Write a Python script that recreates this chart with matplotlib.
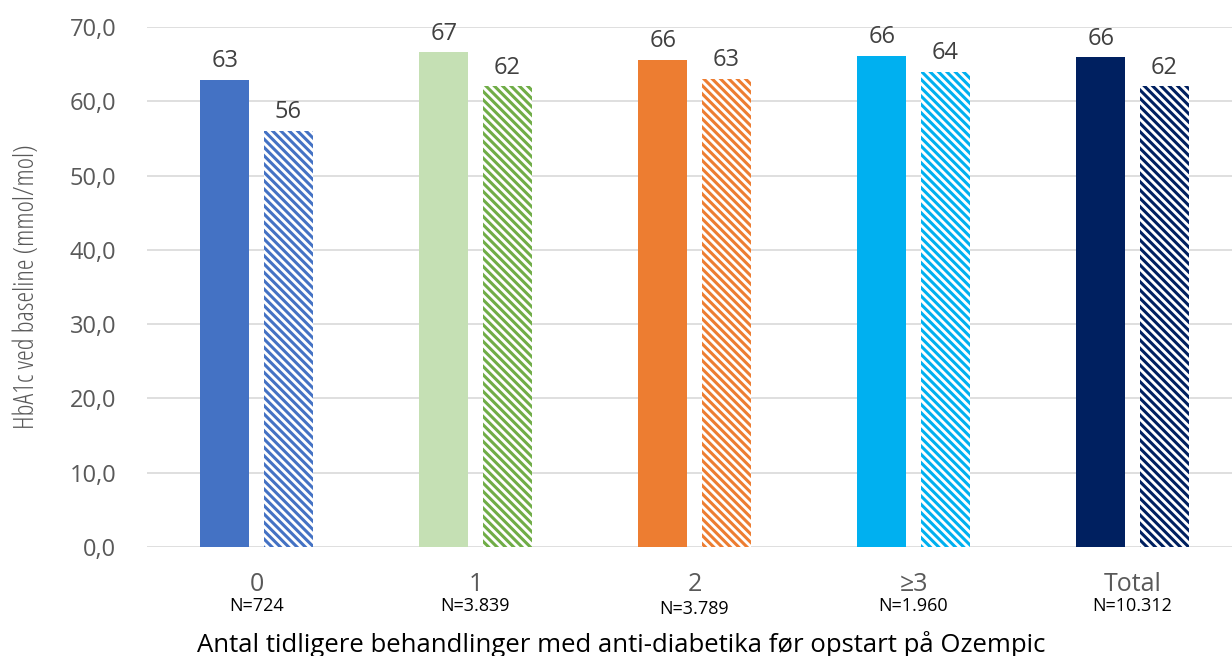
import matplotlib
matplotlib.use("Agg")
import matplotlib.pyplot as plt
import numpy as np

# --- data ---
groups = ["0", "1", "2", "≥3", "Total"]
n_labels = ["N=724", "N=3.839", "N=3.789", "N=1.960", "N=10.312"]
baseline = [62.9, 66.6, 65.6, 66.1, 65.9]
hatched_vals = [56.0, 62.0, 63.0, 64.0, 62.0]
solid_colors = ["#4472C4", "#C5E0B4", "#ED7D31", "#00B0F0", "#002060"]
hatch_colors = ["#4472C4", "#70AD47", "#ED7D31", "#00B0F0", "#002060"]

plt.rcParams["font.family"] = ["Open Sans", "DejaVu Sans"]
plt.rcParams["hatch.linewidth"] = 2.2

fig = plt.figure(figsize=(12.32, 6.56), dpi=100)
ax = fig.add_axes([147 / 1232, 109 / 656, 1 - 147 / 1232, (547 - 27) / 656])

x = np.arange(len(groups))
w = 0.224
off = 0.144

for i in range(len(groups)):
    ax.bar(x[i] - off, baseline[i], w, color=solid_colors[i], zorder=3)
    ax.bar(x[i] + off, hatched_vals[i], w, facecolor="white",
           edgecolor=hatch_colors[i], hatch="\\\\\\\\", linewidth=0, zorder=3)
    ax.text(x[i] - off, baseline[i] + 2.5, f"{baseline[i]:.0f}", ha="center",
            va="center", fontsize=17, color="#404040")
    ax.text(x[i] + off, hatched_vals[i] + 2.5, f"{hatched_vals[i]:.0f}", ha="center",
            va="center", fontsize=17, color="#404040")

ax.set_xlim(-0.5, 4.5 - 10 / 219)
ax.set_ylim(0, 70)
ax.set_yticks(np.arange(0, 71, 10))
ax.set_yticklabels([f"{v:.1f}".replace(".", ",") for v in np.arange(0, 71, 10)],
                   fontsize=17, color="#595959")
ax.tick_params(axis="y", length=0, pad=22)
ax.set_xticks(x)
ax.set_xticklabels(groups, fontsize=18, color="#595959")
ax.tick_params(axis="x", length=0, pad=18)
ax.grid(axis="y", color="#D9D9D9", linewidth=1.2, zorder=0)
for s in ax.spines.values():
    s.set_visible(False)

# N labels under each category
for i, lab in enumerate(n_labels):
    ax.text(x[i], -8.0 - (0.4 if i == 2 else 0), lab, ha="center", va="center",
            fontsize=13, color="#000000")

ax.set_ylabel("HbA1c ved baseline (mmol/mol)", fontsize=19.5, color="#595959",
              fontstretch="condensed")
ax.yaxis.set_label_coords(-106 / 1085, 0.5)

fig.text(621 / 1232, 1 - 644 / 656,
         "Antal tidligere behandlinger med anti-diabetika før opstart på Ozempic",
         ha="center", va="center", fontsize=18.5, color="#000000")

fig.savefig("out.png", dpi=100)
